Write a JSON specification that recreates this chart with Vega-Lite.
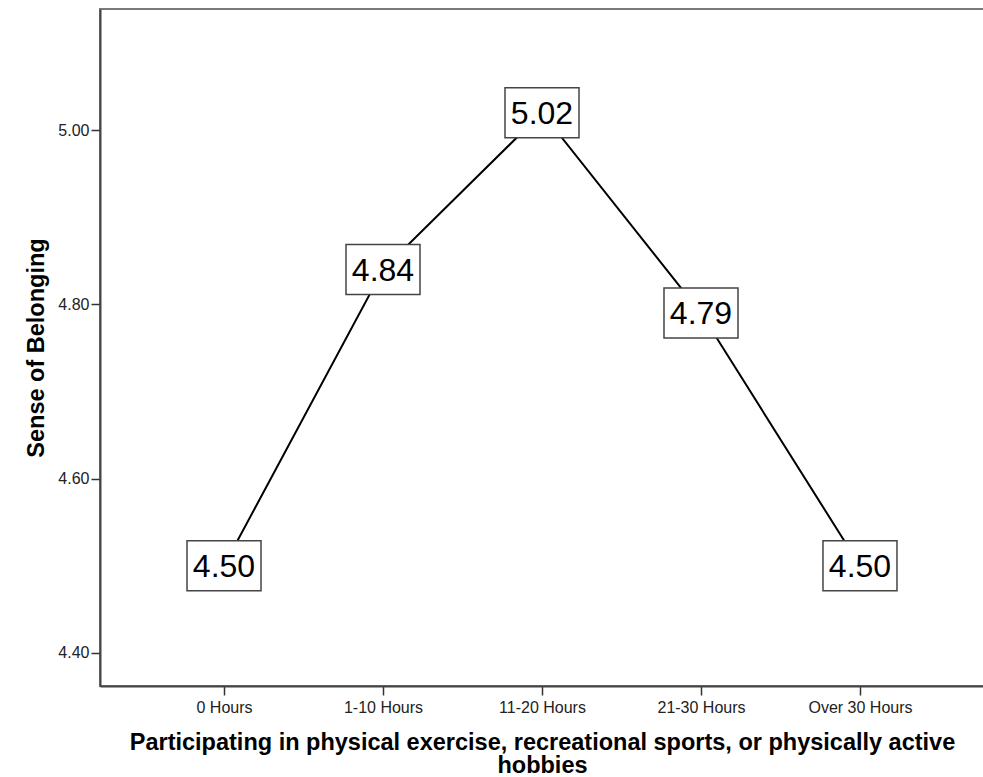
{
  "$schema": "https://vega.github.io/schema/vega-lite/v6.json",
  "width": 884,
  "height": 677,
  "autosize": "none",
  "padding": {"left": 100, "top": 9, "right": 0, "bottom": 91},
  "background": "white",
  "config": {
    "font": "Liberation Sans",
    "view": {"stroke": "#7a7a7a", "strokeWidth": 2},
    "axis": {
      "domainColor": "#444444",
      "domainWidth": 2,
      "tickColor": "#333333",
      "tickWidth": 1.5,
      "tickSize": 9,
      "labelColor": "#222222",
      "labelFont": "Liberation Sans",
      "labelFontSize": 16,
      "titleFont": "Liberation Sans",
      "titleFontWeight": "bold",
      "titleFontSize": 23.5,
      "titleColor": "#000000",
      "grid": false
    }
  },
  "data": {
    "values": [
      {"hours": "0 Hours", "belonging": 4.50, "label": "4.50"},
      {"hours": "1-10 Hours", "belonging": 4.84, "label": "4.84"},
      {"hours": "11-20 Hours", "belonging": 5.02, "label": "5.02"},
      {"hours": "21-30 Hours", "belonging": 4.79, "label": "4.79"},
      {"hours": "Over 30 Hours", "belonging": 4.50, "label": "4.50"}
    ]
  },
  "encoding": {
    "x": {
      "field": "hours",
      "type": "ordinal",
      "sort": null,
      "scale": {"type": "point", "padding": 0.78},
      "axis": {
        "labelAngle": 0,
        "labelPadding": 4,
        "titlePadding": 15,
        "titleLineHeight": 23,
        "title": ["Participating in physical exercise, recreational sports, or physically active", "hobbies"]
      }
    },
    "y": {
      "field": "belonging",
      "type": "quantitative",
      "scale": {"domain": [4.362, 5.139], "zero": false, "nice": false},
      "axis": {
        "values": [4.4, 4.6, 4.8, 5.0],
        "format": ".2f",
        "labelPadding": 2,
        "titlePadding": 9,
        "title": "Sense of Belonging"
      }
    }
  },
  "layer": [
    {"mark": {"type": "line", "color": "#000000", "strokeWidth": 2}},
    {
      "mark": {
        "type": "point",
        "shape": "M-0.74,-0.5L0.74,-0.5L0.74,0.5L-0.74,0.5Z",
        "size": 10000,
        "filled": true,
        "fill": "white",
        "fillOpacity": 1,
        "stroke": "#444444",
        "strokeWidth": 1.5,
        "opacity": 1
      }
    },
    {
      "mark": {"type": "text", "fontSize": 32, "color": "#000000", "baseline": "middle", "align": "center", "dy": 1},
      "encoding": {"text": {"field": "label"}}
    }
  ]
}
